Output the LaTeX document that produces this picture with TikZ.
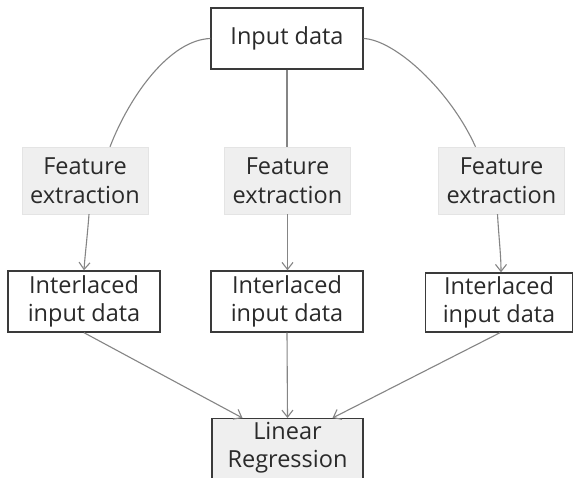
\documentclass[tikz,border=0pt]{standalone}
\usepackage{fontspec}
\setmainfont{Open Sans}
\usetikzlibrary{arrows.meta,calc}
\definecolor{boxline}{HTML}{3A3A3A}
\definecolor{linkline}{HTML}{858585}
\definecolor{softfill}{HTML}{EFEFEF}
\definecolor{textgray}{HTML}{2A2A2A}
\tikzset{
  base/.style={inner sep=0pt, align=center, text=textgray,
    font=\fontsize{23.5}{28.5}\selectfont},
  plainbox/.style={base, draw=boxline, line width=1.4pt, fill=white},
  featbox/.style={base, fill=softfill, draw=softfill!90!gray,
    minimum width=126pt, minimum height=67pt},
  regbox/.style={base, draw=boxline, line width=1.4pt, fill=softfill},
  link/.style={draw=linkline, line width=1.1pt},
  arrowlink/.style={link, -{Straight Barb[length=7pt,width=11pt]}}
}
\begin{document}
\begin{tikzpicture}[x=1pt,y=-1pt]
  \useasboundingbox (0,0) rectangle (575,478);
  \fill[white] (0,0) rectangle (575,478);

  % source
  \node[plainbox, minimum width=152pt, minimum height=61pt] (in) at (287,38.5) {Input data};

  % feature extraction stages
  \node[featbox] (f1) at (85,180.5) {Feature\\extraction};
  \node[featbox] (f2) at (287.5,180.5) {Feature\\extraction};
  \node[featbox] (f3) at (501.5,180.5) {Feature\\extraction};

  % interlaced data blocks
  \node[plainbox, minimum width=152pt, minimum height=61pt] (i1) at (84,301.5) {Interlaced\\input data};
  \node[plainbox, minimum width=152pt, minimum height=61pt] (i2) at (287,301.5) {Interlaced\\input data};
  \node[plainbox, minimum width=147pt, minimum height=59pt] (i3) at (499,302.5) {Interlaced\\input data};

  % regression block (runs past the lower edge)
  \node[regbox, minimum width=151pt, minimum height=76pt, anchor=north] (lr) at (287.5,418) {};
  \node[base, anchor=north] (lrtext) at (287.5,422) {Linear\\Regression};

  % input to feature extraction
  \draw[link] (in.west) .. controls (170,40) and (130,95) .. ($(f1.north)+(25,0)$);
  \draw[link] (in.south) -- (in.south |- f2.north);
  \draw[link] (in.east) .. controls (395,40) and (450,90) .. ($(f3.north)+(-26,0)$);

  % feature extraction to interlaced data
  \draw[arrowlink] ($(f1.south)+(4,0)$) .. controls (87,240) and (85,255) .. (i1.north);
  \draw[arrowlink] (f2.south) -- (f2.south |- i2.north);
  \draw[arrowlink] ($(f3.south)+(-4,0)$) .. controls (499,240) and (501,255) .. ($(i3.north)+(2,0)$);

  % interlaced data to regression
  \draw[arrowlink] (i1.south) -- ($(lr.north)+(-45,0)$);
  \draw[arrowlink] (i2.south) -- (lr.north);
  \draw[arrowlink] ($(i3.south)+(1,0)$) -- ($(lr.north)+(45,0)$);
\end{tikzpicture}
\end{document}
